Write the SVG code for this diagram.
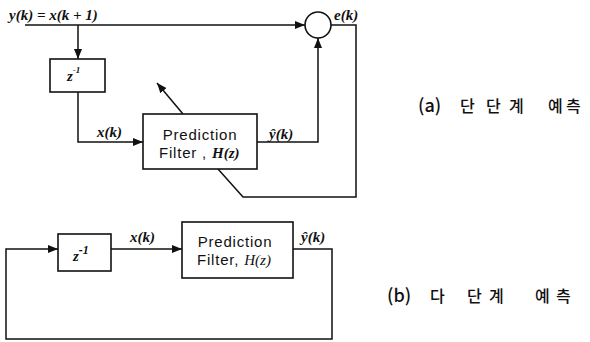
<svg xmlns="http://www.w3.org/2000/svg" width="590" height="342" viewBox="0 0 590 342">
<style>
.ln{fill:none;stroke:#111;stroke-width:1.5}
.box{fill:#fff;stroke:#111;stroke-width:1.6}
.m{font-family:"Liberation Serif",serif;font-style:italic;font-weight:bold;font-size:15px;fill:#111}
.s{font-family:"Liberation Sans",Arial,sans-serif;font-size:15px;fill:#111;letter-spacing:0.8px}
.k{font-family:"Noto Sans CJK KR",sans-serif;font-size:16px;font-weight:500;fill:#111}
.p{font-size:18px}
</style>
<defs>
<marker id="ah" markerUnits="userSpaceOnUse" markerWidth="10" markerHeight="8" refX="10" refY="4" orient="auto">
<path d="M0,0 L10,4 L0,8 z" fill="#111"/>
</marker>
</defs>
<g id="connectors">
<path class="ln" d="M25,25 H305" marker-end="url(#ah)"/>
<path class="ln" d="M78,25 V59" marker-end="url(#ah)"/>
<path class="ln" d="M78,92 V142 H143" marker-end="url(#ah)"/>
<path class="ln" d="M257,142 H318 V38" marker-end="url(#ah)"/>
<path class="ln" d="M331,25 H356 V197 H243 L218,169"/>
<path class="ln" d="M183,114 L157,83" marker-end="url(#ah)"/>
<path class="ln" d="M293,249 H332 V339 H6 V249 H58" marker-end="url(#ah)"/>
<path class="ln" d="M111,249 H182" marker-end="url(#ah)"/>
</g>
<g id="sum">
<circle cx="318" cy="25" r="13" class="box"/>
</g>
<g id="delay-a">
<rect x="50" y="59" width="55" height="33" class="box"/>
<text class="m" x="67" y="81">z<tspan font-size="9" dy="-8">-1</tspan></text>
</g>
<g id="filter-a">
<rect x="143" y="114" width="114" height="55" class="box"/>
<text class="s" x="200" y="140" text-anchor="middle">Prediction</text>
<text class="s" x="159" y="158">Filter , <tspan font-style="italic" font-weight="bold" font-family="Liberation Serif,serif" letter-spacing="0">H(z)</tspan></text>
</g>
<g id="delay-b">
<rect x="58" y="234" width="53" height="37" class="box"/>
<text class="m" x="73" y="261" font-size="16">z<tspan font-size="12" dy="-7">-1</tspan></text>
</g>
<g id="filter-b">
<rect x="182" y="222" width="111" height="56" class="box"/>
<text class="s" x="235" y="247" text-anchor="middle">Prediction</text>
<text class="s" x="197" y="265">Filter, <tspan font-style="italic" font-family="Liberation Serif,serif" letter-spacing="0">H(z)</tspan></text>
</g>
<g id="labels">
<text class="m" x="9" y="20">y(k) = x(k + 1)</text>
<text class="m" x="334" y="20">e(k)</text>
<text class="m" x="97" y="137">x(k)</text>
<text class="m" x="269" y="139">ŷ(k)</text>
<text class="m" x="130" y="242">x(k)</text>
<text class="m" x="301" y="242">ŷ(k)</text>
<text class="k" y="112"><tspan class="p" x="418">(a)</tspan><tspan x="460">단</tspan><tspan x="486">단</tspan><tspan x="509">계</tspan><tspan x="548">예</tspan><tspan x="566">측</tspan></text>
<text class="k" y="302"><tspan class="p" x="387">(b)</tspan><tspan x="430">다</tspan><tspan x="467">단</tspan><tspan x="489">계</tspan><tspan x="535">예</tspan><tspan x="556">측</tspan></text>
</g>
</svg>
